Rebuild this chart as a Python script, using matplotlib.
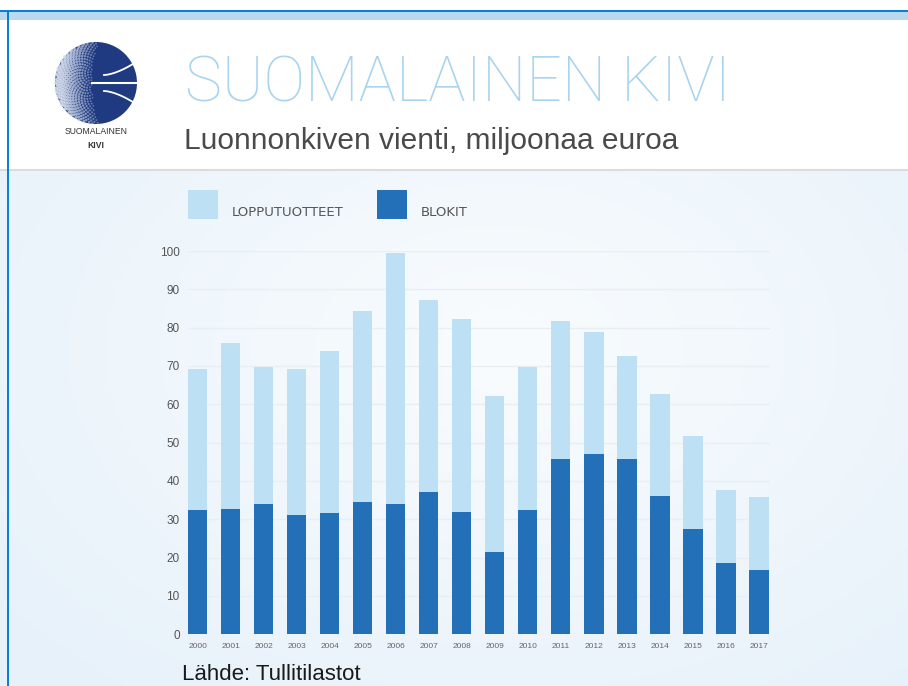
import matplotlib
matplotlib.use("Agg")
import matplotlib.pyplot as plt
import numpy as np
from matplotlib.patches import Rectangle, Circle
from matplotlib.transforms import Bbox, TransformedBbox

# ---------------- data ----------------
years = [str(y) for y in range(2000, 2018)]
blokit = [32.5, 32.7, 33.9, 31.1, 31.6, 34.6, 33.9, 37.0, 31.8,
          21.5, 32.4, 45.7, 47.0, 45.7, 36.0, 27.4, 18.5, 16.9]
lopputuotteet = [36.7, 43.2, 35.9, 38.1, 42.2, 49.7, 65.6, 50.3, 50.4,
                 40.7, 37.4, 36.0, 31.8, 27.0, 26.7, 24.4, 19.1, 18.9]
yticks = list(range(0, 101, 10))
series_names = ["LOPPUTUOTTEET", "BLOKIT"]
title = "SUOMALAINEN KIVI"
subtitle = "Luonnonkiven vienti, miljoonaa euroa"
source = "Lähde: Tullitilastot"

LIGHT = "#bde0f4"
DARK = "#2470b8"

W, H = 908, 686
fig = plt.figure(figsize=(W / 100, H / 100), dpi=100)

# background canvas in pixel coordinates
bg = fig.add_axes([0, 0, 1, 1])
bg.set_xlim(0, W)
bg.set_ylim(H, 0)
bg.axis("off")

# soft gradient for the chart area
ny, nx = 120, 200
gy, gx = np.mgrid[0:ny, 0:nx]
dx = (gx / (nx - 1) - 0.55) / 0.75
dy = (gy / (ny - 1) - 0.35) / 0.9
d = np.clip(np.sqrt(dx ** 2 + dy ** 2), 0, 1)
c_in = np.array([249, 252, 254]) / 255
c_out = np.array([230, 241, 250]) / 255
img = c_in[None, None, :] * (1 - d[..., None]) + c_out[None, None, :] * d[..., None]
bg.imshow(img, extent=(0, W, H, 170), aspect="auto", interpolation="bilinear", zorder=0)

# header
bg.add_patch(Rectangle((0, 0), W, 170, facecolor="white", edgecolor="none", zorder=1))
bg.plot([0, W], [169.5, 169.5], color="#dcdcdc", lw=1.5, zorder=2)
bg.add_patch(Rectangle((0, 12), W, 7.5, facecolor="#bad9f1", edgecolor="none", zorder=2))
bg.add_patch(Rectangle((0, 9.5), W, 2.5, facecolor="#0a80d2", edgecolor="none", zorder=3))
bg.add_patch(Rectangle((6.5, 9.5), 2.2, H, facecolor="#0a80d2", edgecolor="none", zorder=3))

# logo
cx, cy, r = 96, 83, 41
bg.add_patch(Circle((cx, cy), r, facecolor="#1f3a80", edgecolor="none", zorder=3))
# granite speckle on left part (deterministic golden-angle pattern)
n = 700
k = np.arange(n)
ang = k * 2.399963
rad = r * np.sqrt((k + 0.5) / n)
px = cx + rad * np.cos(ang)
py = cy + rad * np.sin(ang)
edge = cx - 6 - 10 * np.cos(np.arcsin(np.clip((py - cy) / r, -1, 1)))
mask = px < edge + 12
w = np.clip((edge + 12 - px) / 30, 0, 1)
bg.scatter(px[mask], py[mask], s=1.5 + 5 * w[mask], color="#dfe6f3",
           alpha=0.35 + 0.5 * w[mask], linewidths=0, zorder=4)
# white lines
t = np.linspace(0, 1, 30)
bg.plot(cx - 4 + (r + 4) * t, cy + 0 * t, color="white", lw=1.5, zorder=5)
bg.plot(cx + 8 + (r - 9) * t, cy - 8 - 13 * t ** 1.6, color="white", lw=1.3, zorder=5)
bg.plot(cx + 8 + (r - 9) * t, cy + 8 + 13 * t ** 1.6, color="white", lw=1.3, zorder=5)
bg.text(96, 132, "SUOMALAINEN", ha="center", va="center", fontsize=6.2,
        family="Liberation Sans", color="#333333", zorder=5)
bg.text(96, 145, "KIVI", ha="center", va="center", fontsize=6.2,
        family="Liberation Sans", fontweight="bold", color="#333333", zorder=5)

# titles
bg.text(185, 102, title, ha="left", va="baseline", fontsize=45, family="Roboto",
        fontweight="light", color="#a8d4ef", zorder=5)
bg.text(184, 149, subtitle, ha="left", va="baseline", fontsize=21.5,
        family="Liberation Sans", color="#4a4a4a", zorder=5)
bg.text(182, 680, source, ha="left", va="baseline", fontsize=16,
        family="Liberation Sans", color="#1a1a1a", zorder=5)

# legend
bg.add_patch(Rectangle((188, 190), 30, 29, facecolor=LIGHT, edgecolor="none", zorder=5))
bg.text(232, 213, series_names[0], ha="left", va="center", fontsize=9.5,
        family="DejaVu Sans", color="#555555", zorder=5)
bg.add_patch(Rectangle((377, 190), 30, 29, facecolor=DARK, edgecolor="none", zorder=5))
bg.text(421, 213, series_names[1], ha="left", va="center", fontsize=9.5,
        family="DejaVu Sans", color="#555555", zorder=5)

# chart axes
y0, y100 = 634.3, 251.0
ax = fig.add_axes([188 / W, 1 - y0 / H, 582 / W, (y0 - y100) / H])
ax.patch.set_alpha(0)
x = np.arange(len(years))
ax.bar(x, blokit, width=0.59, color=DARK, zorder=2)
ax.bar(x, lopputuotteet, width=0.59, bottom=blokit, color=LIGHT, zorder=2)
ax.set_xlim(-0.295, 17.34)
ax.set_ylim(0, 100)
ax.set_yticks(yticks)
ax.set_yticklabels([str(v) for v in yticks], family="Liberation Sans",
                   fontsize=8.5, color="#555555")
ax.set_xticks(x)
ax.set_xticklabels(years, family="Liberation Sans", fontsize=6, color="#666666")
ax.yaxis.grid(True, color="#e8eef4", lw=1)
ax.set_axisbelow(True)
for s in ax.spines.values():
    s.set_visible(False)
ax.tick_params(axis="both", length=0)
ax.tick_params(axis="y", pad=6)
ax.tick_params(axis="x", pad=6)
clip = TransformedBbox(Bbox([[0, 0], [770 / W, 1]]), fig.transFigure)
for lab in ax.get_xticklabels():
    lab.set_clip_on(True)
    lab.set_clip_box(clip)

fig.savefig("out.png", dpi=100)
